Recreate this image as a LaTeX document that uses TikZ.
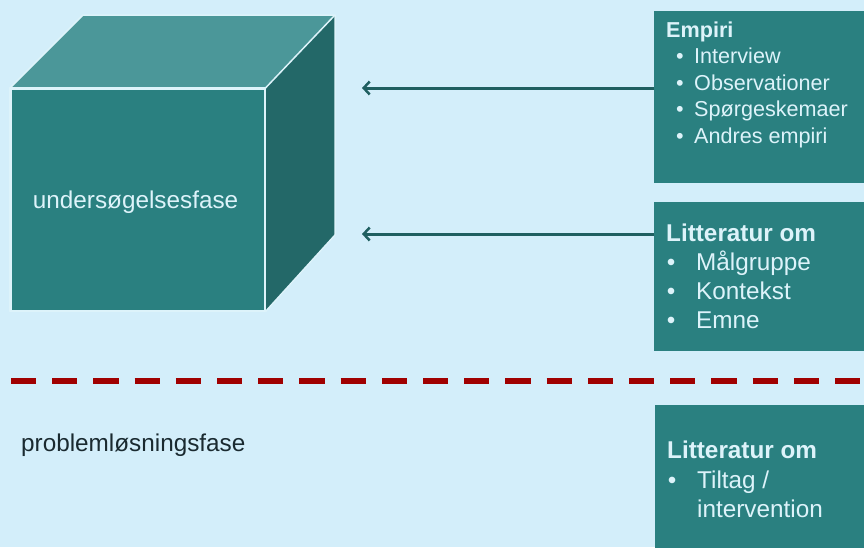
\documentclass[tikz,border=0pt]{standalone}
\usepackage{fontspec}
\setmainfont{Liberation Sans}
\usetikzlibrary{arrows.meta}
\definecolor{bg}{HTML}{D3EEFA}
\definecolor{teal1}{HTML}{2A8080}
\definecolor{tealtop}{HTML}{4B9799}
\definecolor{tealside}{HTML}{236868}
\definecolor{lighttxt}{HTML}{DDF3FA}
\definecolor{arrcol}{HTML}{1F5F60}
\definecolor{dashred}{HTML}{A00000}
\definecolor{darktxt}{HTML}{1A2A30}
\tikzset{
  panel/.style={fill=teal1, draw=none, anchor=north west, inner sep=0pt},
  facefront/.style={fill=teal1, draw=lighttxt, line width=1.5pt, anchor=north west, inner sep=0pt},
  faceedge/.style={draw=lighttxt, line width=1.5pt, line join=round},
  link/.style={draw=arrcol, line width=3pt, -{Straight Barb[length=6pt,width=13pt,line width=2.5pt]}},
  divider/.style={draw=dashred, line width=6pt, dash pattern=on 25.2pt off 16pt},
  head/.style={anchor=base west, inner sep=0pt, text=lighttxt, font=\bfseries\fontsize{#1}{#1}\selectfont},
  item/.style={anchor=base west, inner sep=0pt, text=lighttxt, font=\fontsize{#1}{#1}\selectfont},
  bul/.style={anchor=base, inner sep=0pt, text=lighttxt, font=\fontsize{#1}{#1}\selectfont},
}
\begin{document}
\begin{tikzpicture}[x=1pt,y=-1pt]
\useasboundingbox (0,0) rectangle (864,547);
\fill[bg] (0,0) rectangle (864,547);

% cube
\node[facefront, minimum width=254pt, minimum height=222pt] (front) at (10,88) {};
\coordinate (btl) at (83,15);
\coordinate (btr) at (335,15);
\coordinate (bbr) at (335,235);
\fill[tealtop] (front.north west) -- (btl) -- (btr) -- (front.north east) -- cycle;
\fill[tealside] (front.north east) -- (btr) -- (bbr) -- (front.south east) -- cycle;
\draw[faceedge] (front.north west) -- (btl) -- (btr) -- (front.north east) -- cycle;
\draw[faceedge] (btr) -- (bbr) -- (front.south east);
\draw[faceedge] (front.north west) rectangle (front.south east);
\node[item=24.3, anchor=base west] (cubetxt) at (32.7,208) {undersøgelsesfase};

% panels
\node[panel, minimum width=212pt, minimum height=172pt] (emp) at (654,11) {};
\node[panel, minimum width=212pt, minimum height=149pt] (lit1) at (654,202) {};
\node[panel, minimum width=212pt, minimum height=145pt] (lit2) at (655,405) {};

% panel texts
\node[head=21.6] (empH) at (666,37) {Empiri};
\node[bul=21.6] (eb1) at (680,63.5) {•};
\node[item=21.6] (e1) at (694,63.5) {Interview};
\node[bul=21.6] (eb2) at (680,90) {•};
\node[item=21.6] (e2) at (694,90) {Observationer};
\node[bul=21.6] (eb3) at (680,116.5) {•};
\node[item=21.6] (e3) at (694,116.5) {Spørgeskemaer};
\node[bul=21.6] (eb4) at (680,143) {•};
\node[item=21.6] (e4) at (694,143) {Andres empiri};

\node[head=24.3] (l1H) at (666,241) {Litteratur om};
\node[bul=24.3] (lb1) at (671,270) {•};
\node[item=24.3] (l11) at (696,270) {Målgruppe};
\node[bul=24.3] (lb2) at (671,299) {•};
\node[item=24.3] (l12) at (696,299) {Kontekst};
\node[bul=24.3] (lb3) at (671,328) {•};
\node[item=24.3] (l13) at (696,328) {Emne};

\node[head=24.3] (l2H) at (667,458) {Litteratur om};
\node[bul=24.3] (lb4) at (672,488) {•};
\node[item=24.3] (l21) at (697,488) {Tiltag /};
\node[item=24.3] (l22) at (697,517) {intervention};

% phase label
\node[anchor=base west, inner sep=0pt, text=darktxt, font=\fontsize{24.3}{28}\selectfont] (prob) at (21,451.5) {problemløsningsfase};

% arrows
\coordinate (t1) at (362,88);
\coordinate (t2) at (362,234);
\draw[link] (emp.west |- t1) -- (t1);
\draw[link] (lit1.west |- t2) -- (t2);

% divider
\coordinate (d1) at (11,381);
\coordinate (d2) at (864,381);
\draw[divider] (d1) -- (d2);
\end{tikzpicture}
\end{document}
